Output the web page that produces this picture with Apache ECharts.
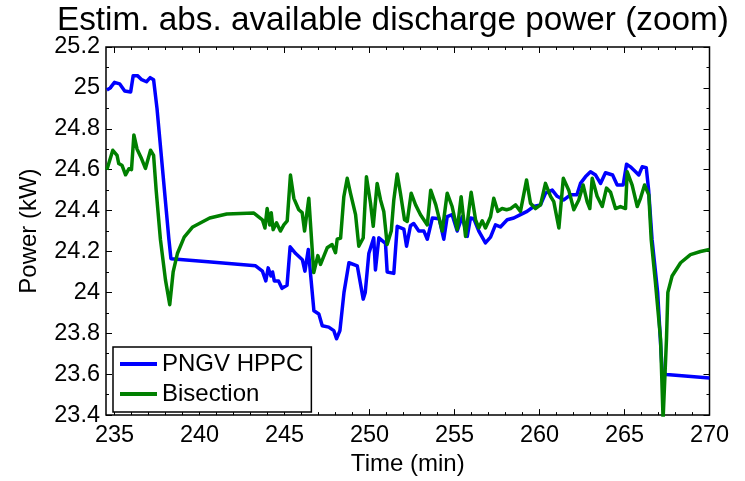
<!DOCTYPE html>
<html>
<head>
<meta charset="utf-8">
<script src="https://cdn.jsdelivr.net/npm/echarts@6/dist/echarts.min.js"></script>
<style>html,body{margin:0;padding:0;background:#fff}#c{width:745px;height:481px}</style>
</head>
<body>
<div id="c"></div>
<script>
// ---- data ----
const hppcTime = [234.55,234.75,235.0,235.3,235.6,235.95,236.1,236.35,236.6,236.88,237.1,237.3,237.5,238.2,238.32,240.5,243.3,243.7,243.9,244.04,244.2,244.3,244.4,244.65,244.85,245.15,245.33,245.66,246.05,246.2,246.4,246.73,247.02,247.22,247.6,247.9,248.06,248.26,248.5,248.79,249.28,249.63,249.75,249.96,250.25,250.35,250.55,250.94,251.04,251.43,251.63,252.02,252.18,252.41,252.6,252.9,253.2,253.4,253.7,254.1,254.37,254.57,254.86,255.16,255.45,255.75,255.94,256.14,256.43,256.82,257.12,257.41,257.7,258.1,258.49,258.88,259.27,259.66,260.06,260.35,260.75,261.04,261.43,261.82,262.2,262.41,262.7,263.0,263.3,263.59,263.88,264.3,264.57,264.92,265.12,265.35,265.65,265.84,266.04,266.28,266.42,266.62,266.95,267.22,267.47,270.0];
const hppcPower = [24.99,25.00,25.027,25.02,24.985,24.98,25.06,25.06,25.04,25.03,25.05,25.04,24.9,24.26,24.165,24.15,24.13,24.104,24.056,24.12,24.08,24.10,24.056,24.056,24.02,24.035,24.223,24.19,24.16,24.104,24.21,23.91,23.894,23.837,23.83,23.813,23.773,23.813,24.0,24.145,24.13,23.967,24.0,24.19,24.267,24.11,24.267,24.24,24.10,24.093,24.323,24.31,24.226,24.326,24.337,24.30,24.30,24.26,24.364,24.36,24.26,24.37,24.38,24.30,24.37,24.274,24.364,24.36,24.30,24.242,24.27,24.33,24.32,24.355,24.364,24.38,24.396,24.42,24.428,24.485,24.50,24.47,24.452,24.477,24.477,24.533,24.565,24.59,24.574,24.533,24.585,24.574,24.525,24.525,24.627,24.614,24.59,24.574,24.614,24.61,24.50,24.26,24.0,23.61,23.598,23.582];

const bisTime = [234.55,234.9,235.15,235.25,235.45,235.65,235.85,236.0,236.14,236.33,236.56,236.82,237.12,237.3,237.45,237.7,238.0,238.25,238.45,238.7,239.1,239.6,240.6,241.6,243.2,243.7,243.85,243.98,244.13,244.22,244.33,244.53,244.76,244.96,245.16,245.35,245.55,245.84,246.04,246.18,246.43,246.72,246.96,247.12,247.51,247.8,248.0,248.1,248.3,248.49,248.69,248.88,249.18,249.37,249.63,249.82,250.06,250.22,250.45,250.65,250.84,251.04,251.28,251.43,251.63,251.82,252.06,252.22,252.45,252.71,253.0,253.4,253.6,253.9,254.28,254.57,254.86,255.16,255.39,255.65,255.98,256.24,256.43,256.63,256.82,257.12,257.31,257.55,257.8,258.06,258.3,258.59,258.88,259.24,259.47,259.76,260.06,260.35,260.65,260.84,261.14,261.4,261.72,262.02,262.31,262.57,262.8,262.96,263.1,263.39,263.69,263.94,264.18,264.47,264.76,265.06,265.16,265.45,265.75,265.94,266.18,266.43,266.57,266.82,267.12,267.27,267.47,267.55,267.8,268.3,268.88,269.47,270.0];
const bisPower = [24.60,24.695,24.67,24.63,24.62,24.575,24.605,24.60,24.77,24.70,24.66,24.606,24.695,24.67,24.5,24.26,24.06,23.94,24.1,24.19,24.27,24.32,24.364,24.383,24.388,24.355,24.315,24.41,24.33,24.39,24.307,24.34,24.30,24.33,24.35,24.574,24.46,24.404,24.39,24.30,24.46,24.097,24.18,24.137,24.218,24.234,24.194,24.26,24.266,24.468,24.558,24.485,24.38,24.226,24.266,24.565,24.436,24.323,24.533,24.452,24.396,24.234,24.30,24.452,24.579,24.485,24.355,24.347,24.485,24.428,24.38,24.33,24.50,24.428,24.30,24.485,24.42,24.307,24.468,24.274,24.49,24.355,24.315,24.35,24.315,24.37,24.46,24.396,24.41,24.404,24.41,24.428,24.396,24.55,24.436,24.41,24.428,24.533,24.47,24.444,24.315,24.558,24.50,24.404,24.452,24.525,24.444,24.41,24.558,24.47,24.42,24.51,24.49,24.41,24.42,24.41,24.59,24.525,24.42,24.46,24.525,24.477,24.26,24.048,23.773,23.38,23.773,24.0,24.08,24.145,24.185,24.2,24.21];

const xMajorTicks = [235,240,245,250,255,260,265,270];
const xMinorTicks = [];
for (let v = 235; v <= 270; v++) { if (v % 5 !== 0) xMinorTicks.push(v); }

const seriesNames = ['PNGV HPPC', 'Bisection'];
// ---------------------------------------

const FONT = "'Liberation Sans', Arial, Helvetica, sans-serif";
const pairs = (t, p) => t.map((x, i) => [x, p[i]]);

const chart = echarts.init(document.getElementById('c'), null, {renderer: 'canvas'});

function xAx(pos, major, labels) {
  return {
    type: 'value', position: pos, min: 234.5, max: 270,
    axisLine: {show: false},
    splitLine: {show: false},
    axisTick: {show: true, inside: true, length: major ? 6 : 3,
      lineStyle: {color: '#000', width: 1}, customValues: major ? xMajorTicks : xMinorTicks},
    axisLabel: labels ? {show: true, customValues: xMajorTicks, color: '#000',
      fontSize: 23.5, fontFamily: FONT, margin: 8} : {show: false},
    name: labels ? 'Time (min)' : '',
    nameLocation: 'middle', nameGap: 36,
    nameTextStyle: {color: '#000', fontSize: 24, fontFamily: FONT}
  };
}
function yAx(pos, labels) {
  return {
    type: 'value', position: pos, min: 23.4, max: 25.2, interval: 0.2,
    axisLine: {show: false},
    splitLine: {show: false},
    axisTick: {show: true, inside: true, length: 6, lineStyle: {color: '#000', width: 1}},
    minorTick: {show: true, splitNumber: 2, length: 3, lineStyle: {color: '#000', width: 1}},
    minorSplitLine: {show: false},
    axisLabel: labels ? {show: true, color: '#000', fontSize: 23.5, fontFamily: FONT, margin: 6,
      formatter: v => String(Math.round(v * 10) / 10)} : {show: false},
    name: labels ? 'Power (kW)' : '',
    nameLocation: 'middle', nameGap: 65, nameRotate: 90,
    nameTextStyle: {color: '#000', fontSize: 24, fontFamily: FONT}
  };
}

chart.setOption({
  animation: false,
  backgroundColor: '#fff',
  title: {
    text: 'Estim. abs. available discharge power (zoom)',
    left: 57, top: 4, padding: 0,
    textStyle: {color: '#000', fontSize: 33.3, fontWeight: 'normal', fontFamily: FONT}
  },
  grid: {left: 106, right: 35.5, top: 47, bottom: 64, show: true,
    borderColor: '#000', borderWidth: 1.5, backgroundColor: 'transparent'},
  legend: {
    data: seriesNames.map(n => ({name: n, icon: 'rect'})),
    orient: 'vertical', left: 113, top: 347,
    backgroundColor: '#fff', borderColor: '#000', borderWidth: 1.5, borderRadius: 0,
    padding: [5, 8, 6, 7], itemGap: 6, itemWidth: 37, itemHeight: 4,
    textStyle: {color: '#000', fontSize: 24, fontFamily: FONT, lineHeight: 24}
  },
  xAxis: [xAx('bottom', true, true), xAx('bottom', false, false), xAx('top', true, false), xAx('top', false, false)],
  yAxis: [yAx('left', true), yAx('right', false)],
  series: [
    {name: seriesNames[0], type: 'line', xAxisIndex: 0, yAxisIndex: 0, data: pairs(hppcTime, hppcPower),
      symbol: 'none', lineStyle: {color: '#0000ff', width: 3.5, join: 'round'}, itemStyle: {color: '#0000ff'}},
    {name: seriesNames[1], type: 'line', xAxisIndex: 0, yAxisIndex: 0, data: pairs(bisTime, bisPower),
      symbol: 'none', lineStyle: {color: '#008000', width: 3.5, join: 'round'}, itemStyle: {color: '#008000'}}
  ]
});
</script>
</body>
</html>
